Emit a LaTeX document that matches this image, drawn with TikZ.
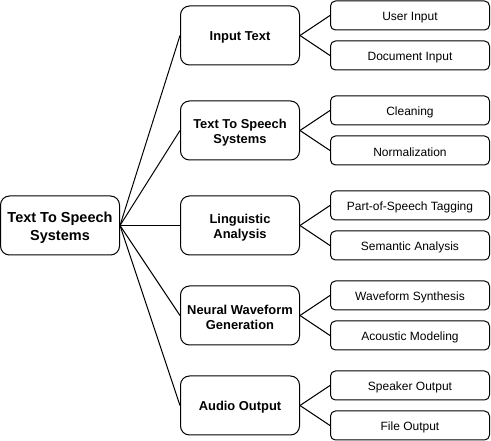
\documentclass[tikz,border=0pt]{standalone}
\usepackage{fontspec}
\setmainfont{Liberation Sans}
\begin{document}
\begin{tikzpicture}[x=1pt,y=-1pt,
  rootbox/.style={draw=black,line width=1pt,rounded corners=9pt,fill=white,
    minimum width=119pt,minimum height=59pt,align=center,inner sep=0pt,
    font=\fontsize{14.5}{18}\selectfont\bfseries},
  midbox/.style={draw=black,line width=1pt,rounded corners=9pt,fill=white,
    minimum width=119pt,minimum height=59pt,align=center,inner sep=0pt,
    font=\fontsize{12.9}{14.5}\selectfont\bfseries},
  leafbox/.style={draw=black,line width=1pt,rounded corners=5pt,fill=white,
    minimum width=159pt,minimum height=29pt,align=center,inner sep=0pt,
    font=\fontsize{12}{14}\selectfont},
  txt/.style={align=center,inner sep=0pt,yshift=-2pt},
  conn/.style={draw=black,line width=1pt}]
\useasboundingbox (0,0) rectangle (491,441);
\node[rootbox,label={[txt,font=\fontsize{14.5}{18}\selectfont\bfseries]center:{Text To Speech\\Systems}}] (root) at (60,225.5) {};
\node[midbox,label={[txt,font=\fontsize{12.9}{14.5}\selectfont\bfseries]center:{Input Text}}] (m1) at (240,35.5) {};
\node[midbox,label={[txt,font=\fontsize{12.9}{14.5}\selectfont\bfseries]center:{Text To Speech\\Systems}}] (m2) at (240,130.5) {};
\node[midbox,label={[txt,font=\fontsize{12.9}{14.5}\selectfont\bfseries]center:{Linguistic\\Analysis}}] (m3) at (240,225.5) {};
\node[midbox,label={[txt,font=\fontsize{12.9}{14.5}\selectfont\bfseries]center:{Neural Waveform\\Generation}}] (m4) at (240,315.5) {};
\node[midbox,label={[txt,font=\fontsize{12.9}{14.5}\selectfont\bfseries]center:{Audio Output}}] (m5) at (240,405.5) {};
\foreach \n/\y/\t in {l1a/15.5/User Input,l1b/55.5/Document Input,l2a/110.5/Cleaning,l2b/150.5/Normalization,l3a/205.5/Part-of-Speech Tagging,l3b/245.5/Semantic Analysis,l4a/295.5/Waveform Synthesis,l4b/335.5/Acoustic Modeling,l5a/385.5/Speaker Output,l5b/425.5/File Output}
  \node[leafbox,label={[txt,font=\fontsize{12}{14}\selectfont]center:{\t}}] (\n) at (410,\y) {};
\foreach \m in {m1,m2,m3,m4,m5}
  \draw[conn] (root.east) -- (\m.west);
\foreach \m/\a/\b in {m1/l1a/l1b,m2/l2a/l2b,m3/l3a/l3b,m4/l4a/l4b,m5/l5a/l5b}{
  \draw[conn] (\m.east) -- (\a.west);
  \draw[conn] (\m.east) -- (\b.west);
}
\end{tikzpicture}
\end{document}
